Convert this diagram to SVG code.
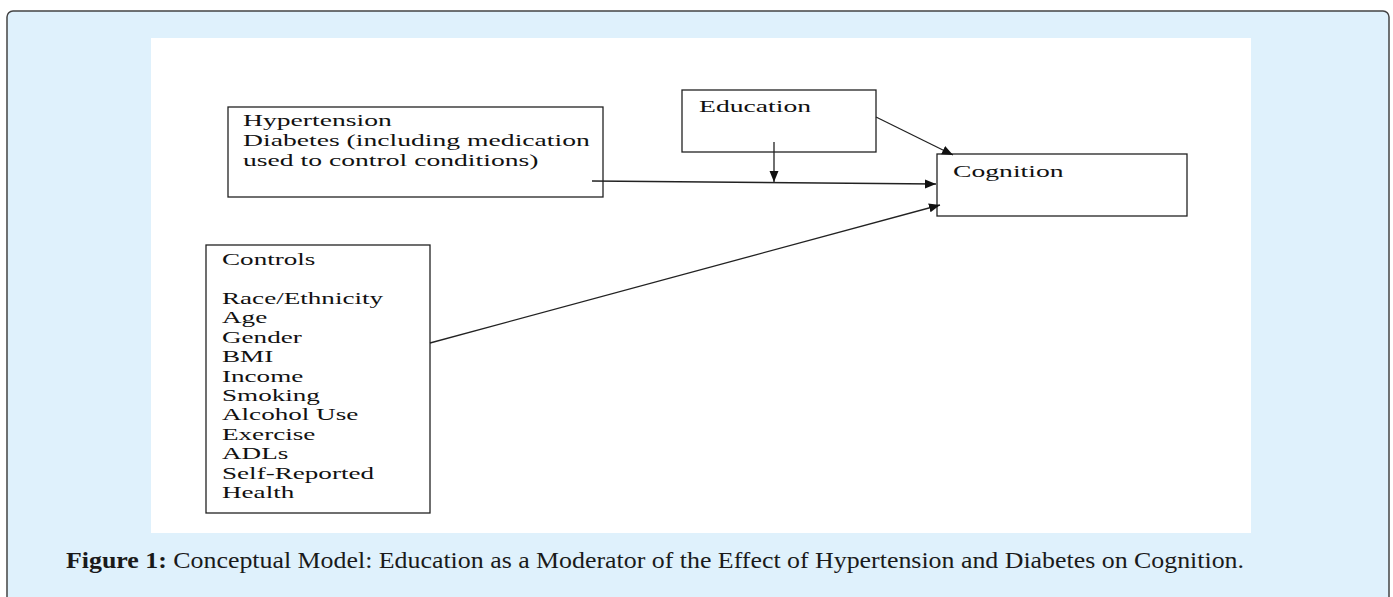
<svg xmlns="http://www.w3.org/2000/svg" width="1393" height="597" viewBox="0 0 1393 597">
  <style>
    .box { fill: #ffffff; stroke: #222222; stroke-width: 1.3; }
    .lbl { font-family: "Liberation Serif", "Times New Roman", serif; font-size: 17.5px; fill: #111111; }
    .conn { stroke: #222222; stroke-width: 1.3; fill: none; marker-end: url(#arrow); }
    .cap { font-family: "Liberation Serif", "Times New Roman", serif; font-size: 23px; fill: #1a1a1a; }
  </style>
  <defs>
    <marker id="arrow" markerUnits="userSpaceOnUse" markerWidth="12" markerHeight="10" refX="11" refY="4.5" orient="auto">
      <path d="M0,0 L11,4.5 L0,9 z" fill="#111111"/>
    </marker>
  </defs>

  <g id="panel">
    <rect x="7" y="11" width="1382" height="600" rx="6" ry="6" fill="#dff1fc" stroke="#444444" stroke-width="1.5"/>
    <rect x="151" y="38" width="1100" height="495" fill="#ffffff"/>
  </g>

  <g id="node-hypertension">
    <rect class="box" x="228" y="107" width="375" height="90"/>
    <g transform="translate(243,0) scale(1.58,1)">
      <text class="lbl" x="0" y="126">Hypertension</text>
      <text class="lbl" x="0" y="146">Diabetes (including medication</text>
      <text class="lbl" x="0" y="166">used to control conditions)</text>
    </g>
  </g>

  <g id="node-education">
    <rect class="box" x="682" y="90" width="194" height="62"/>
    <g transform="translate(699,0) scale(1.58,1)">
      <text class="lbl" x="0" y="112">Education</text>
    </g>
  </g>

  <g id="node-cognition">
    <rect class="box" x="937" y="154" width="250" height="62"/>
    <g transform="translate(953,0) scale(1.58,1)">
      <text class="lbl" x="0" y="177">Cognition</text>
    </g>
  </g>

  <g id="node-controls">
    <rect class="box" x="206" y="245" width="224" height="268"/>
    <g transform="translate(222,0) scale(1.55,1)">
      <text class="lbl" x="0" y="265">Controls</text>
      <text class="lbl" x="0" y="304">Race/Ethnicity</text>
      <text class="lbl" x="0" y="323.4">Age</text>
      <text class="lbl" x="0" y="342.8">Gender</text>
      <text class="lbl" x="0" y="362.2">BMI</text>
      <text class="lbl" x="0" y="381.6">Income</text>
      <text class="lbl" x="0" y="401">Smoking</text>
      <text class="lbl" x="0" y="420.4">Alcohol Use</text>
      <text class="lbl" x="0" y="439.8">Exercise</text>
      <text class="lbl" x="0" y="459.2">ADLs</text>
      <text class="lbl" x="0" y="478.6">Self-Reported</text>
      <text class="lbl" x="0" y="498">Health</text>
    </g>
  </g>

  <g id="connectors">
    <line class="conn" x1="592" y1="181" x2="936" y2="184"/>
    <line class="conn" x1="774" y1="142" x2="774" y2="182"/>
    <line class="conn" x1="876" y1="117" x2="953" y2="155"/>
    <line class="conn" x1="430" y1="343" x2="940" y2="205"/>
  </g>

  <g id="caption">
    <text class="cap" x="66" y="568" textLength="1178" lengthAdjust="spacingAndGlyphs"><tspan font-weight="bold">Figure 1:</tspan> Conceptual Model: Education as a Moderator of the Effect of Hypertension and Diabetes on Cognition.</text>
  </g>
</svg>
